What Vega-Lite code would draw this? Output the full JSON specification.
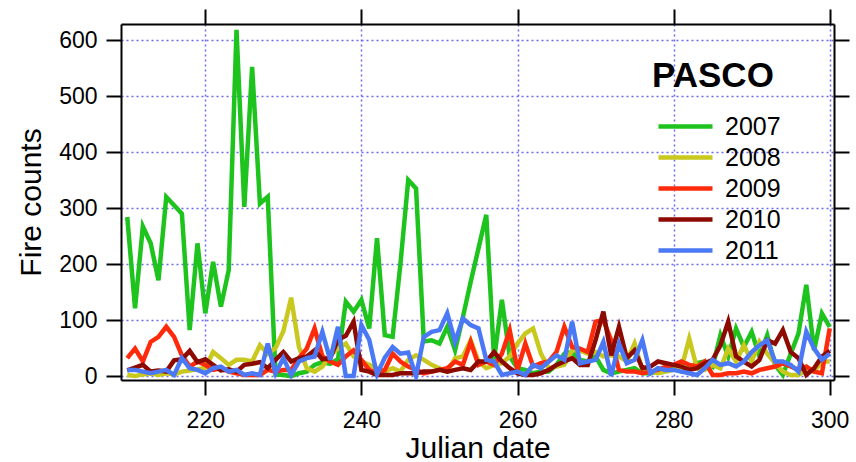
{
  "$schema": "https://vega.github.io/schema/vega-lite/v6.json",
  "width": 713,
  "height": 356,
  "autosize": {"type": "none"},
  "padding": {"left": 121, "top": 24, "right": 22, "bottom": 82},
  "background": "white",
  "config": {"view": {"stroke": null}, "font": "Liberation Sans"},
  "data": {"values": [
    {"day":210,"2007":284,"2008":2,"2009":32,"2010":10,"2011":11},
    {"day":211,"2007":121,"2008":0,"2009":49,"2010":15,"2011":11},
    {"day":212,"2007":267,"2008":3,"2009":26,"2010":20,"2011":8},
    {"day":213,"2007":237,"2008":5,"2009":61,"2010":8,"2011":5},
    {"day":214,"2007":171,"2008":2,"2009":70,"2010":10,"2011":8},
    {"day":215,"2007":320,"2008":5,"2009":88,"2010":8,"2011":11},
    {"day":216,"2007":305,"2008":3,"2009":70,"2010":28,"2011":2},
    {"day":217,"2007":290,"2008":8,"2009":37,"2010":30,"2011":32},
    {"day":218,"2007":82,"2008":10,"2009":17,"2010":45,"2011":14},
    {"day":219,"2007":237,"2008":12,"2009":26,"2010":25,"2011":11},
    {"day":220,"2007":112,"2008":15,"2009":20,"2010":30,"2011":5},
    {"day":221,"2007":204,"2008":43,"2009":11,"2010":20,"2011":14},
    {"day":222,"2007":124,"2008":32,"2009":14,"2010":10,"2011":17},
    {"day":223,"2007":189,"2008":20,"2009":8,"2010":12,"2011":8},
    {"day":224,"2007":618,"2008":29,"2009":5,"2010":8,"2011":11},
    {"day":225,"2007":302,"2008":29,"2009":2,"2010":20,"2011":2},
    {"day":226,"2007":552,"2008":26,"2009":2,"2010":22,"2011":5},
    {"day":227,"2007":308,"2008":55,"2009":2,"2010":25,"2011":2},
    {"day":228,"2007":320,"2008":40,"2009":11,"2010":14,"2011":58},
    {"day":229,"2007":3,"2008":50,"2009":8,"2010":29,"2011":5},
    {"day":230,"2007":2,"2008":80,"2009":11,"2010":43,"2011":32},
    {"day":231,"2007":0,"2008":140,"2009":11,"2010":26,"2011":2},
    {"day":232,"2007":5,"2008":52,"2009":32,"2010":32,"2011":26},
    {"day":233,"2007":8,"2008":14,"2009":49,"2010":35,"2011":32},
    {"day":234,"2007":20,"2008":8,"2009":85,"2010":46,"2011":35},
    {"day":235,"2007":25,"2008":17,"2009":35,"2010":30,"2011":79},
    {"day":236,"2007":22,"2008":37,"2009":26,"2010":32,"2011":29},
    {"day":237,"2007":30,"2008":49,"2009":20,"2010":65,"2011":88},
    {"day":238,"2007":133,"2008":58,"2009":35,"2010":72,"2011":0},
    {"day":239,"2007":115,"2008":35,"2009":46,"2010":97,"2011":0},
    {"day":240,"2007":136,"2008":26,"2009":29,"2010":11,"2011":91},
    {"day":241,"2007":85,"2008":20,"2009":11,"2010":8,"2011":65},
    {"day":242,"2007":246,"2008":14,"2009":5,"2010":2,"2011":3},
    {"day":243,"2007":73,"2008":8,"2009":11,"2010":2,"2011":33},
    {"day":244,"2007":70,"2008":14,"2009":40,"2010":2,"2011":52},
    {"day":245,"2007":200,"2008":8,"2009":26,"2010":5,"2011":40},
    {"day":246,"2007":350,"2008":29,"2009":17,"2010":5,"2011":42},
    {"day":247,"2007":335,"2008":37,"2009":11,"2010":5,"2011":0},
    {"day":248,"2007":62,"2008":29,"2009":5,"2010":8,"2011":70},
    {"day":249,"2007":64,"2008":20,"2009":8,"2010":8,"2011":79},
    {"day":250,"2007":58,"2008":14,"2009":11,"2010":11,"2011":82},
    {"day":251,"2007":88,"2008":8,"2009":14,"2010":8,"2011":112},
    {"day":252,"2007":46,"2008":32,"2009":26,"2010":11,"2011":61},
    {"day":253,"2007":105,"2008":35,"2009":20,"2010":14,"2011":103},
    {"day":254,"2007":168,"2008":64,"2009":61,"2010":11,"2011":91},
    {"day":255,"2007":228,"2008":26,"2009":20,"2010":26,"2011":85},
    {"day":256,"2007":288,"2008":14,"2009":26,"2010":26,"2011":29},
    {"day":257,"2007":30,"2008":20,"2009":20,"2010":43,"2011":26},
    {"day":258,"2007":136,"2008":23,"2009":40,"2010":26,"2011":2},
    {"day":259,"2007":35,"2008":35,"2009":82,"2010":14,"2011":5},
    {"day":260,"2007":14,"2008":58,"2009":11,"2010":5,"2011":8},
    {"day":261,"2007":11,"2008":76,"2009":58,"2010":2,"2011":2},
    {"day":262,"2007":5,"2008":85,"2009":17,"2010":2,"2011":20},
    {"day":263,"2007":8,"2008":40,"2009":23,"2010":5,"2011":14},
    {"day":264,"2007":8,"2008":14,"2009":26,"2010":11,"2011":26},
    {"day":265,"2007":20,"2008":17,"2009":43,"2010":20,"2011":37},
    {"day":266,"2007":40,"2008":20,"2009":88,"2010":26,"2011":29},
    {"day":267,"2007":43,"2008":46,"2009":52,"2010":32,"2011":97},
    {"day":268,"2007":29,"2008":46,"2009":49,"2010":20,"2011":23},
    {"day":269,"2007":26,"2008":40,"2009":43,"2010":20,"2011":26},
    {"day":270,"2007":35,"2008":43,"2009":97,"2010":64,"2011":29},
    {"day":271,"2007":11,"2008":35,"2009":100,"2010":115,"2011":61},
    {"day":272,"2007":5,"2008":37,"2009":64,"2010":37,"2011":0},
    {"day":273,"2007":8,"2008":35,"2009":11,"2010":88,"2011":58},
    {"day":274,"2007":11,"2008":26,"2009":8,"2010":32,"2011":23},
    {"day":275,"2007":14,"2008":58,"2009":8,"2010":46,"2011":29},
    {"day":276,"2007":5,"2008":11,"2009":5,"2010":14,"2011":64},
    {"day":277,"2007":5,"2008":8,"2009":8,"2010":17,"2011":5},
    {"day":278,"2007":8,"2008":5,"2009":11,"2010":26,"2011":14},
    {"day":279,"2007":11,"2008":8,"2009":17,"2010":23,"2011":11},
    {"day":280,"2007":14,"2008":11,"2009":20,"2010":20,"2011":11},
    {"day":281,"2007":8,"2008":14,"2009":26,"2010":17,"2011":8},
    {"day":282,"2007":15,"2008":67,"2009":20,"2010":11,"2011":5},
    {"day":283,"2007":23,"2008":14,"2009":17,"2010":14,"2011":2},
    {"day":284,"2007":26,"2008":11,"2009":26,"2010":23,"2011":14},
    {"day":285,"2007":17,"2008":20,"2009":2,"2010":29,"2011":29},
    {"day":286,"2007":73,"2008":14,"2009":2,"2010":55,"2011":20},
    {"day":287,"2007":35,"2008":49,"2009":5,"2010":97,"2011":23},
    {"day":288,"2007":85,"2008":26,"2009":5,"2010":35,"2011":17},
    {"day":289,"2007":52,"2008":55,"2009":8,"2010":26,"2011":26},
    {"day":290,"2007":79,"2008":26,"2009":5,"2010":17,"2011":43},
    {"day":291,"2007":35,"2008":61,"2009":11,"2010":29,"2011":55},
    {"day":292,"2007":73,"2008":40,"2009":14,"2010":64,"2011":64},
    {"day":293,"2007":20,"2008":23,"2009":17,"2010":58,"2011":26},
    {"day":294,"2007":2,"2008":8,"2009":23,"2010":82,"2011":26},
    {"day":295,"2007":40,"2008":2,"2009":17,"2010":43,"2011":20},
    {"day":296,"2007":76,"2008":2,"2009":11,"2010":32,"2011":8},
    {"day":297,"2007":163,"2008":11,"2009":17,"2010":2,"2011":79},
    {"day":298,"2007":46,"2008":8,"2009":8,"2010":14,"2011":49},
    {"day":299,"2007":112,"2008":26,"2009":5,"2010":35,"2011":29},
    {"day":300,"2007":88,"2008":26,"2009":85,"2010":45,"2011":40}
  ]},
  "transform": [{"fold": ["2007", "2008", "2009", "2010", "2011"], "as": ["year", "count"]}],
  "layer": [
    {
      "mark": {"type": "line", "strokeWidth": 4.5, "clip": true},
      "encoding": {
        "x": {
          "field": "day", "type": "quantitative",
          "scale": {"domain": [209.2, 300.55], "nice": false, "zero": false},
          "axis": {
            "orient": "bottom", "values": [220, 240, 260, 280, 300], "title": "Julian date",
            "titleFontSize": 30, "titleFontWeight": "normal", "titleColor": "black", "titlePadding": 1,
            "labelFontSize": 23, "labelColor": "black", "labelPadding": 14, "labelFlush": false,
            "tickSize": 15, "tickWidth": 2, "tickColor": "black",
            "domainColor": "black", "domainWidth": 2,
            "grid": true, "gridColor": "#6a6aee", "gridDash": [2, 3], "gridWidth": 1.5
          }
        },
        "y": {
          "field": "count", "type": "quantitative",
          "scale": {"domain": [-7, 628.6], "nice": false, "zero": false},
          "axis": {
            "orient": "left", "values": [0, 100, 200, 300, 400, 500, 600], "title": "Fire counts",
            "titleFontSize": 30, "titleFontWeight": "normal", "titleColor": "black", "titlePadding": 12,
            "labelFontSize": 23, "labelColor": "black", "labelPadding": 9, "labelFlush": false,
            "tickSize": 15, "tickWidth": 2, "tickColor": "black",
            "domainColor": "black", "domainWidth": 2,
            "grid": true, "gridColor": "#6a6aee", "gridDash": [2, 3], "gridWidth": 1.5
          }
        },
        "color": {
          "field": "year", "type": "nominal",
          "scale": {"domain": ["2007", "2008", "2009", "2010", "2011"], "range": ["#1ec31e", "#c8c81e", "#ff2a0a", "#8c0a00", "#4b78f5"]},
          "legend": {
            "orient": "none", "legendX": 531, "legendY": 35, "padding": 0,
            "title": "PASCO", "titleFontSize": 35, "titleFontWeight": "bold", "titleColor": "black", "titlePadding": 20,
            "labelFontSize": 25, "labelColor": "black", "labelOffset": 27,
            "symbolType": "M-2.7,0H2.7", "symbolSize": 400, "symbolStrokeWidth": 4.5, "symbolOffset": 21,
            "rowPadding": 5
          }
        }
      }
    },
    {
      "mark": {"type": "line", "opacity": 0},
      "encoding": {
        "x": {
          "field": "day", "type": "quantitative",
          "axis": {
            "orient": "top", "values": [220, 240, 260, 280, 300], "title": null, "labels": false,
            "tickSize": 15, "tickWidth": 2, "tickColor": "black",
            "domainColor": "black", "domainWidth": 2, "grid": false
          }
        },
        "y": {
          "field": "count", "type": "quantitative",
          "axis": {
            "orient": "right", "values": [0, 100, 200, 300, 400, 500, 600], "title": null, "labels": false,
            "tickSize": 15, "tickWidth": 2, "tickColor": "black",
            "domainColor": "black", "domainWidth": 2, "grid": false
          }
        },
        "detail": {"field": "year", "type": "nominal"}
      }
    }
  ],
  "resolve": {"axis": {"x": "independent", "y": "independent"}}
}
